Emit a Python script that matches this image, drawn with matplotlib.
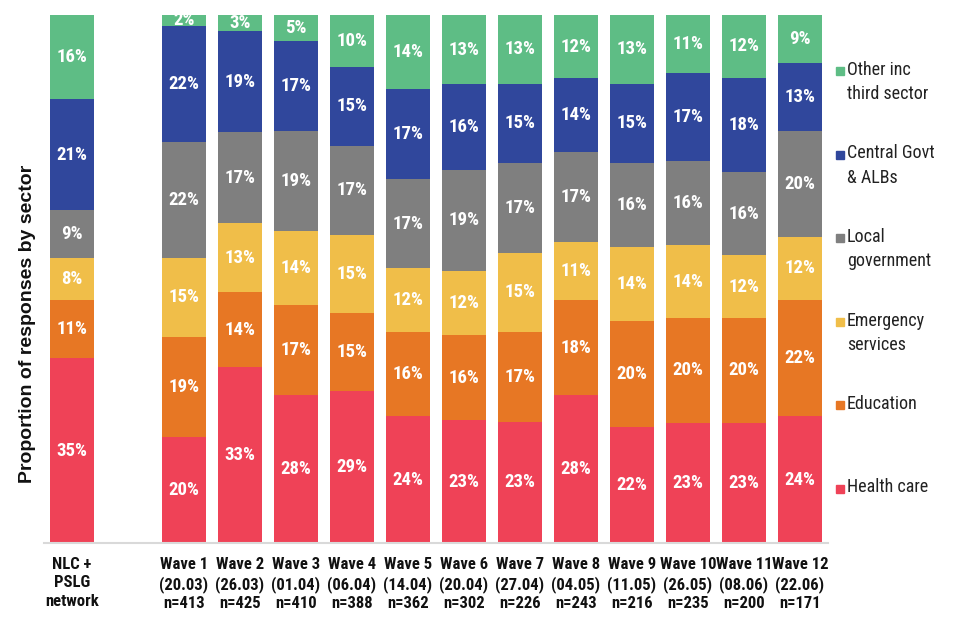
import matplotlib
matplotlib.use("Agg")
import matplotlib.pyplot as plt
from matplotlib.patches import Rectangle
import numpy as np

categories = ["NLC +\nPSLG\nnetwork", "",
              "Wave 1\n(20.03)\nn=413", "Wave 2\n(26.03)\nn=425", "Wave 3\n(01.04)\nn=410",
              "Wave 4\n(06.04)\nn=388", "Wave 5\n(14.04)\nn=362", "Wave 6\n(20.04)\nn=302",
              "Wave 7\n(27.04)\nn=226", "Wave 8\n(04.05)\nn=243", "Wave 9\n(11.05)\nn=216",
              "Wave 10\n(26.05)\nn=235", "Wave 11\n(08.06)\nn=200", "Wave 12\n(22.06)\nn=171"]

sectors = ["Health care", "Education", "Emergency\nservices", "Local\ngovernment",
           "Central Govt\n& ALBs", "Other inc\nthird sector"]

# values in percent; None = empty gap column
health    = [35, None, 20, 33, 28, 29, 24, 23, 23, 28, 22, 23, 23, 24]
education = [11, None, 19, 14, 17, 15, 16, 16, 17, 18, 20, 20, 20, 22]
emergency = [8,  None, 15, 13, 14, 15, 12, 12, 15, 11, 14, 14, 12, 12]
local_gov = [9,  None, 22, 17, 19, 17, 17, 19, 17, 17, 16, 16, 16, 20]
central   = [21, None, 22, 19, 17, 15, 17, 16, 15, 14, 15, 17, 18, 13]
other     = [16, None, 2,  3,  5,  10, 14, 13, 13, 12, 13, 11, 12, 9]

colors = ["#EF4257", "#E77724", "#F0BE49", "#7F7F7F", "#30479C", "#5EBD85"]

series = [health, education, emergency, local_gov, central, other]

NARROW = ["Roboto Condensed", "DejaVu Sans"]
plt.rcParams["font.family"] = ["Liberation Sans", "DejaVu Sans"]

fig = plt.figure(figsize=(9.6, 6.4), dpi=100)
ax = fig.add_axes([44/960, 1-543/640, (828-44)/960, (543-15)/640])

x = np.arange(len(categories))
valid = [i for i in range(len(categories)) if health[i] is not None]
totals = {i: sum(s[i] for s in series) for i in valid}

bottoms = {i: 0.0 for i in valid}
for s, c in zip(series, colors):
    xs = np.array(valid)
    h = np.array([s[i] / totals[i] for i in valid])
    b = np.array([bottoms[i] for i in valid])
    ax.bar(xs, h, bottom=b, width=0.78, color=c, edgecolor="none")
    for xi, hi, bi, i in zip(xs, h, b, valid):
        ax.text(xi, bi + hi/2, f"{s[i]}%", ha="center", va="center", color="white",
                fontsize=13.5, fontweight="bold", family=NARROW)
        bottoms[i] += hi

ax.set_xlim(-0.5, 13.5)
ax.set_ylim(0, 1)
ax.set_yticks([])
ax.set_xticks(x)
ax.set_xticklabels(categories, fontsize=12, fontweight="bold", family=NARROW,
                   linespacing=1.3, color="#111111")
ax.tick_params(axis="x", length=0, pad=10)
for sp in ["top", "right", "left"]:
    ax.spines[sp].set_visible(False)
ax.spines["bottom"].set_color("#D9D9D9")
ax.spines["bottom"].set_linewidth(1.5)

fig.text(28/960, 1-324/640, "Proportion of responses by sector", rotation=90,
         ha="center", va="center", fontsize=14, fontweight="bold", color="#111111")

# legend, top entry = Other
first_lines = [71, 154.5, 238, 321.5, 405, 488.5]
for k, (lab, c) in enumerate(zip(sectors[::-1], colors[::-1])):
    yc = first_lines[k]
    fig.patches.append(Rectangle((836/960, 1-(yc+4)/640), 8/960, 8/640,
                                 transform=fig.transFigure, color=c))
    fig.text(847/960, 1-(yc-10)/640, lab, ha="left", va="top", fontsize=13,
             family=NARROW, color="#222222", linespacing=1.45)

fig.savefig("out.png", dpi=100)
